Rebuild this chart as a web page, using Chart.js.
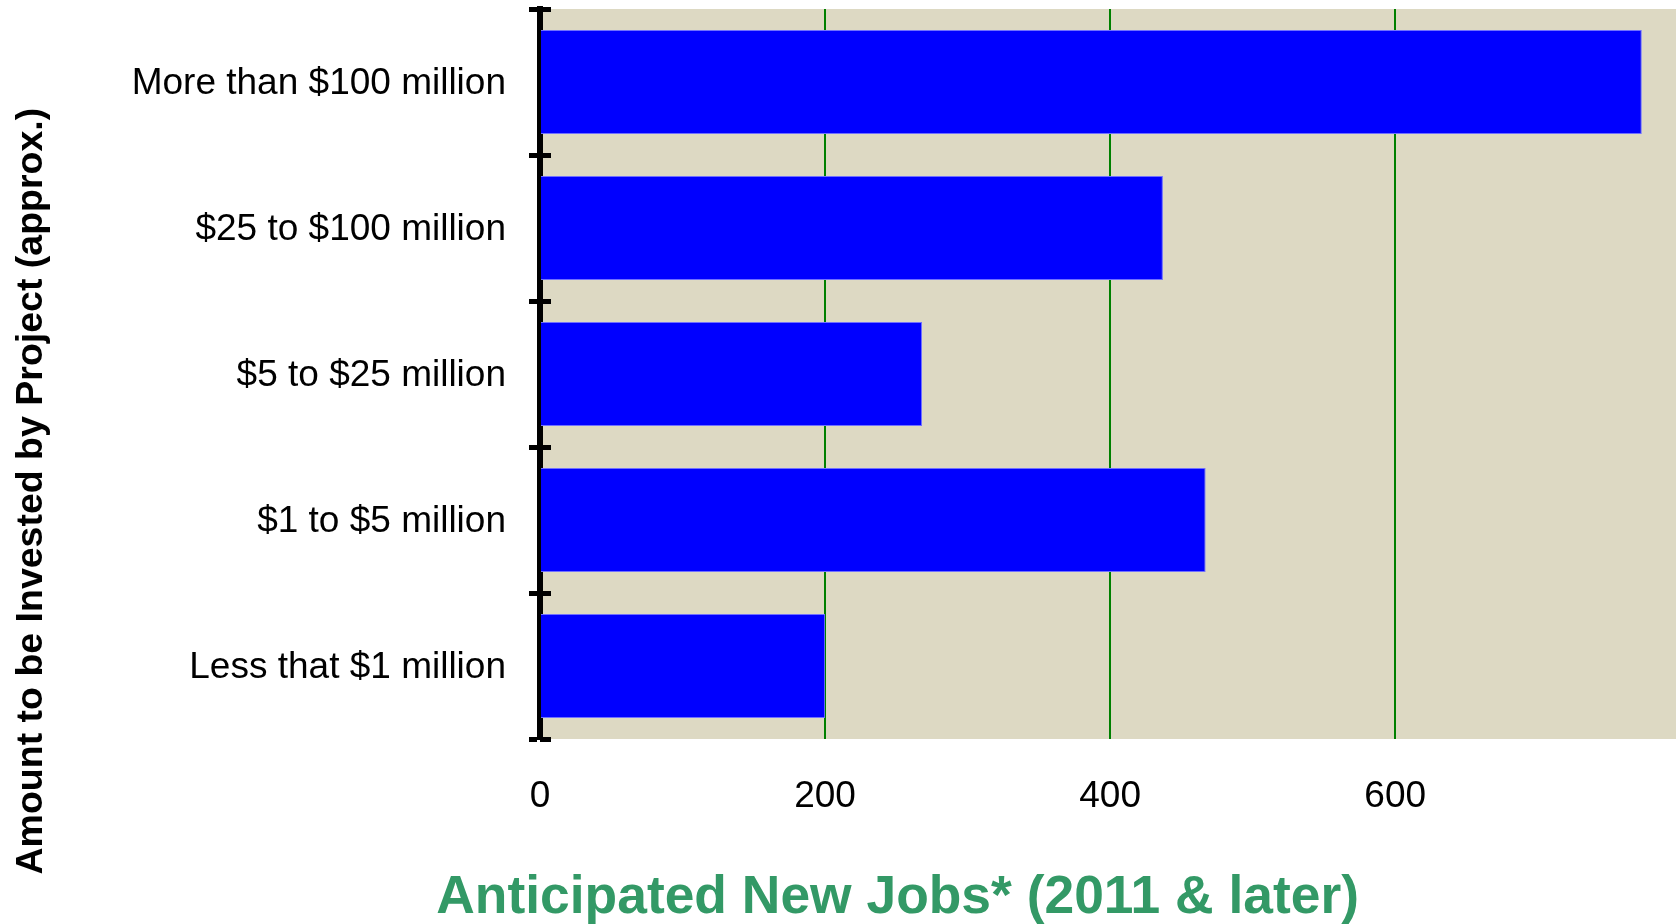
<!DOCTYPE html>
<html>
<head>
<meta charset="utf-8">
<script src="https://cdn.jsdelivr.net/npm/chart.js@4"></script>
<style>
  html, body { margin: 0; padding: 0; background: #ffffff; }
  #wrap { width: 1676px; height: 924px; position: relative; }
</style>
</head>
<body>
<div id="wrap"><canvas id="c"></canvas></div>
<script>
// ---- data ----
const categories = [
  "More than $100 million",
  "$25 to $100 million",
  "$5 to $25 million",
  "$1 to $5 million",
  "Less that $1 million"
];
const jobs = [773, 437, 268, 467, 200];
const xTickValues = [0, 200, 400, 600];
const xMin = 0;
const xMax = 797;
const xTitle = "Anticipated New Jobs* (2011 & later)";
const yTitle = "Amount to be Invested by Project (approx.)";

const FONT = "'Liberation Sans', Arial, Helvetica, sans-serif";

const plotBackground = {
  id: 'plotBackground',
  beforeDraw(chart) {
    const a = chart.chartArea, ctx = chart.ctx;
    ctx.save();
    ctx.fillStyle = '#DDD9C3';
    ctx.fillRect(a.left, a.top, a.right - a.left, a.bottom - a.top);
    ctx.restore();
  }
};

const axisTitles = {
  id: 'axisTitles',
  afterDraw(chart) {
    const ctx = chart.ctx, w = chart.width, h = chart.height;
    ctx.save();
    ctx.fillStyle = '#339966';
    ctx.font = "bold 53.4px " + FONT;
    ctx.textAlign = 'center';
    ctx.textBaseline = 'alphabetic';
    ctx.fillText(xTitle, w * 0.5356, h - 11);
    ctx.restore();

    ctx.save();
    ctx.fillStyle = '#000000';
    ctx.font = "bold 37.5px " + FONT;
    ctx.translate(42, h * 0.5315);
    ctx.rotate(-Math.PI / 2);
    ctx.textAlign = 'center';
    ctx.textBaseline = 'alphabetic';
    ctx.fillText(yTitle, 0, 0);
    ctx.restore();
  }
};

new Chart(document.getElementById('c'), {
  type: 'bar',
  data: {
    labels: categories,
    datasets: [{
      data: jobs,
      backgroundColor: '#0000FF',
      borderColor: '#7070FF',
      borderWidth: 1,
      barPercentage: 0.714,
      categoryPercentage: 1.0,
      yAxisID: 'y',
      xAxisID: 'x'
    }]
  },
  options: {
    indexAxis: 'y',
    responsive: true,
    maintainAspectRatio: false,
    animation: false,
    events: [],
    layout: { padding: { top: 9, left: 0, right: 0, bottom: 0 } },
    plugins: {
      legend: { display: false },
      tooltip: { enabled: false },
      title: { display: false }
    },
    scales: {
      x: {
        type: 'linear',
        position: 'bottom',
        min: xMin,
        max: xMax,
        afterBuildTicks(scale) {
          scale.ticks = xTickValues.map(v => ({ value: v }));
        },
        afterFit(scale) {
          scale.height = 185;
          scale.paddingLeft = 0;
          scale.paddingRight = 0;
        },
        ticks: {
          color: '#000000',
          font: { family: FONT, size: 37 },
          padding: 36,
          maxRotation: 0,
          autoSkip: false
        },
        grid: {
          color: (c) => (c.tick && c.tick.value === 0) ? 'rgba(0,0,0,0)' : '#008000',
          lineWidth: 2,
          drawTicks: false
        },
        border: { display: false }
      },
      y: {
        type: 'category',
        position: 'left',
        offset: true,
        weight: 1,
        afterFit(scale) {
          scale.width = 540;
          scale.paddingTop = 0;
          scale.paddingBottom = 0;
        },
        ticks: {
          color: '#000000',
          font: { family: FONT, size: 37 },
          padding: 23,
          labelOffset: 2,
          autoSkip: false
        },
        grid: {
          offset: true,
          drawOnChartArea: false,
          drawTicks: true,
          tickLength: 11,
          tickWidth: 5,
          tickColor: '#000000',
          color: '#000000'
        },
        border: { display: true, color: '#000000', width: 6 }
      },
      y2: {
        type: 'category',
        position: 'left',
        labels: categories,
        offset: true,
        weight: -1,
        afterFit(scale) {
          scale.width = 0;
          scale.paddingTop = 0;
          scale.paddingBottom = 0;
        },
        ticks: { display: false },
        grid: {
          offset: true,
          drawOnChartArea: false,
          drawTicks: true,
          tickLength: -11,
          tickWidth: 5,
          tickColor: '#000000',
          color: '#000000'
        },
        border: { display: false }
      }
    }
  },
  plugins: [plotBackground, axisTitles]
});
</script>
</body>
</html>
